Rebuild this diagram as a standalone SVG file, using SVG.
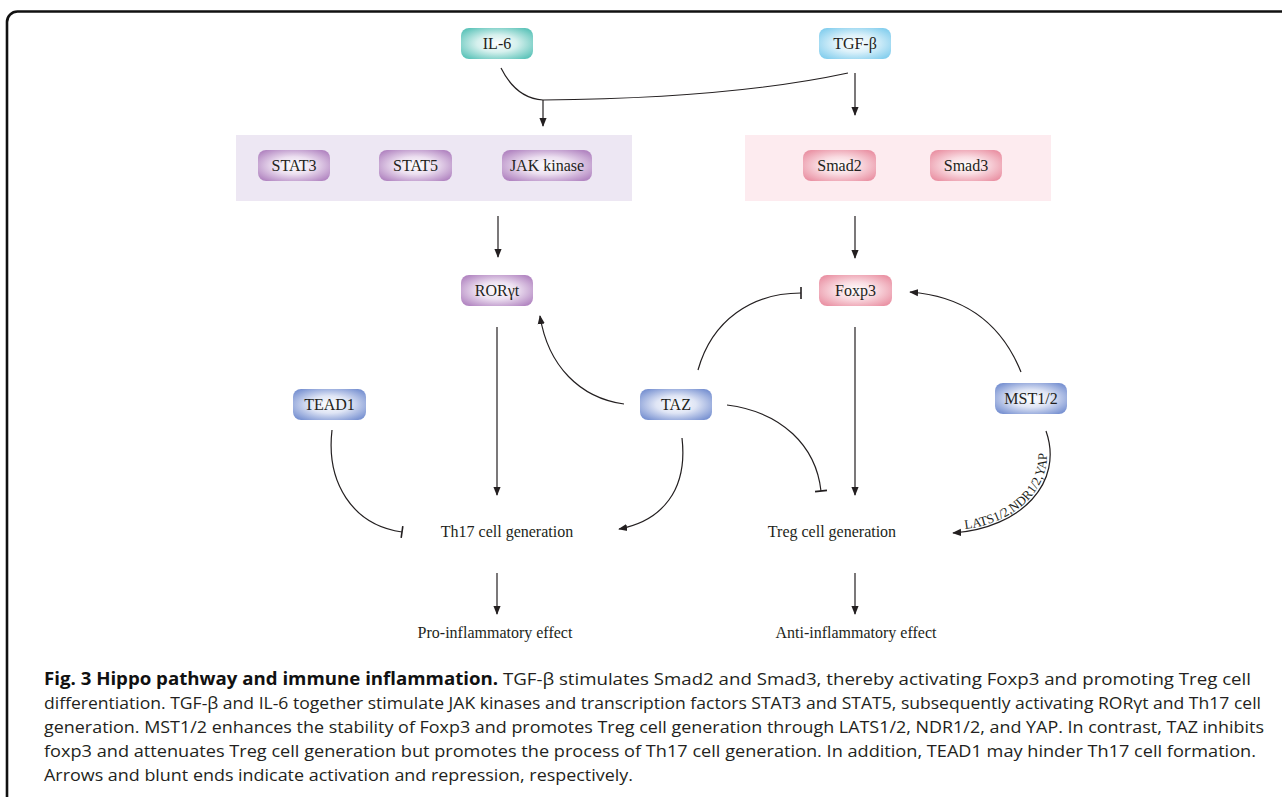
<svg xmlns="http://www.w3.org/2000/svg" width="1282" height="797" viewBox="0 0 1282 797">
<style>
.lbl{font-family:"Liberation Serif","Times New Roman",serif;font-size:16px;fill:#231f20;text-anchor:middle}
.ln{fill:none;stroke:#231f20;stroke-width:1.2}
.cap{font-family:"Open Sans","Noto Sans",sans-serif;font-size:17px;fill:#231f20}
.capb{font-weight:bold;fill:#111}
.path{font-family:"Liberation Serif","Times New Roman",serif;font-size:13px;fill:#231f20}
</style>
<defs>
<radialGradient id="gTeal" cx="0.5" cy="0.5" r="0.62"><stop offset="0" stop-color="#ffffff"/><stop offset="0.45" stop-color="#d5f0ed"/><stop offset="1" stop-color="#5ec4ba"/></radialGradient>
<radialGradient id="gSky" cx="0.5" cy="0.5" r="0.62"><stop offset="0" stop-color="#ffffff"/><stop offset="0.45" stop-color="#dcf1fa"/><stop offset="1" stop-color="#86cfee"/></radialGradient>
<radialGradient id="gPur" cx="0.5" cy="0.5" r="0.62"><stop offset="0" stop-color="#ffffff"/><stop offset="0.45" stop-color="#ecdff0"/><stop offset="1" stop-color="#b387c2"/></radialGradient>
<radialGradient id="gPink" cx="0.5" cy="0.5" r="0.62"><stop offset="0" stop-color="#ffffff"/><stop offset="0.45" stop-color="#f9dbe1"/><stop offset="1" stop-color="#ea93a5"/></radialGradient>
<radialGradient id="gBlue" cx="0.5" cy="0.5" r="0.62"><stop offset="0" stop-color="#ffffff"/><stop offset="0.45" stop-color="#dfe5f5"/><stop offset="1" stop-color="#7a93d2"/></radialGradient>
<marker id="arr" viewBox="0 0 10 10" refX="9" refY="5" markerWidth="9" markerHeight="9" markerUnits="userSpaceOnUse" orient="auto"><path d="M0,1 L10,5 L0,9 Z" fill="#231f20"/></marker>
<marker id="tee" viewBox="-2 -7 4 14" refX="0" refY="0" markerWidth="4" markerHeight="14" markerUnits="userSpaceOnUse" orient="auto"><line x1="0" y1="-6" x2="0" y2="6" stroke="#231f20" stroke-width="1.6"/></marker>
</defs>
<rect width="1282" height="797" fill="#ffffff"/>
<path d="M7,797 V22 A10.5,10.5 0 0 1 17.5,11.5 H1282" fill="none" stroke="#111" stroke-width="2.6"/>

<g id="background-boxes">
<rect id="box-jak" x="236" y="135" width="396" height="66" fill="#ede7f3"/>
<rect id="box-smad" x="745" y="135" width="306" height="66" fill="#fdebef"/>
</g>

<g id="connectors">
<path class="ln" d="M501,68 C511,88 525,99 543,100"/>
<path class="ln" d="M848,73 C760,92 650,99 543,100"/>
<path class="ln" d="M543,100 V126" marker-end="url(#arr)"/>
<path class="ln" d="M855,73 V115" marker-end="url(#arr)"/>
<path class="ln" d="M498,216 V257" marker-end="url(#arr)"/>
<path class="ln" d="M855,216 V258" marker-end="url(#arr)"/>
<path class="ln" d="M497,327 V495" marker-end="url(#arr)"/>
<path class="ln" d="M855,327 V495" marker-end="url(#arr)"/>
<path class="ln" d="M497,573 V614" marker-end="url(#arr)"/>
<path class="ln" d="M855,573 V614" marker-end="url(#arr)"/>
<path class="ln" d="M332,430 C326,482 352,525 402,532" marker-end="url(#tee)"/>
<path class="ln" d="M682,438 C688,490 662,521 619,529" marker-end="url(#arr)"/>
<path class="ln" d="M624,404 C580,398 548,366 540,316" marker-end="url(#arr)"/>
<path class="ln" d="M698,370 C712,320 752,293 801,293" marker-end="url(#tee)"/>
<path class="ln" d="M727,405 C782,412 816,446 821,491" marker-end="url(#tee)"/>
<path class="ln" d="M1021,372 C1000,320 962,296 910,292" marker-end="url(#arr)"/>
<path class="ln" d="M1046,431 C1064,482 1022,528 953,533" marker-end="url(#arr)"/>
<path id="lblpath" d="M960,529.5 C1020,525 1060,481 1043,433" fill="none" stroke="none"/>
<text class="path"><textPath href="#lblpath" startOffset="5">LATS1/2,NDR1/2,YAP</textPath></text>
</g>

<g id="il6"><rect x="461" y="28" width="72" height="31" rx="8" fill="url(#gTeal)"/><text class="lbl" x="497" y="49">IL-6</text></g>
<g id="tgfb"><rect x="819" y="28" width="72" height="31" rx="8" fill="url(#gSky)"/><text class="lbl" x="855" y="49">TGF-β</text></g>
<g id="stat3"><rect x="258" y="150" width="72" height="31" rx="8" fill="url(#gPur)"/><text class="lbl" x="294" y="171">STAT3</text></g>
<g id="stat5"><rect x="379" y="150" width="73" height="31" rx="8" fill="url(#gPur)"/><text class="lbl" x="415.5" y="171">STAT5</text></g>
<g id="jak"><rect x="502" y="150" width="90" height="31" rx="8" fill="url(#gPur)"/><text class="lbl" x="547" y="171">JAK kinase</text></g>
<g id="smad2"><rect x="803" y="150" width="73" height="31" rx="8" fill="url(#gPink)"/><text class="lbl" x="839.5" y="171">Smad2</text></g>
<g id="smad3"><rect x="930" y="150" width="72" height="31" rx="8" fill="url(#gPink)"/><text class="lbl" x="966" y="171">Smad3</text></g>
<g id="rorgt"><rect x="461" y="275" width="72" height="31" rx="8" fill="url(#gPur)"/><text class="lbl" x="497" y="296">RORγt</text></g>
<g id="foxp3"><rect x="819" y="275" width="73" height="31" rx="8" fill="url(#gPink)"/><text class="lbl" x="855.5" y="296">Foxp3</text></g>
<g id="tead1"><rect x="293" y="389" width="73" height="31" rx="8" fill="url(#gBlue)"/><text class="lbl" x="329.5" y="410">TEAD1</text></g>
<g id="taz"><rect x="640" y="389" width="72" height="31" rx="8" fill="url(#gBlue)"/><text class="lbl" x="676" y="410">TAZ</text></g>
<g id="mst12"><rect x="995" y="383" width="72" height="31" rx="8" fill="url(#gBlue)"/><text class="lbl" x="1031" y="404">MST1/2</text></g>
<g id="th17"><text class="lbl" x="507" y="537">Th17 cell generation</text></g>
<g id="treg"><text class="lbl" x="832" y="537">Treg cell generation</text></g>
<g id="pro"><text class="lbl" x="495" y="638">Pro-inflammatory effect</text></g>
<g id="anti"><text class="lbl" x="856" y="638">Anti-inflammatory effect</text></g>

<g id="caption">
<text class="cap" x="44" y="685" textLength="1207" lengthAdjust="spacingAndGlyphs"><tspan class="capb">Fig. 3 Hippo pathway and immune inflammation.</tspan> TGF-β stimulates Smad2 and Smad3, thereby activating Foxp3 and promoting Treg cell</text>
<text class="cap" x="44" y="709" textLength="1217" lengthAdjust="spacingAndGlyphs">differentiation. TGF-β and IL-6 together stimulate JAK kinases and transcription factors STAT3 and STAT5, subsequently activating RORγt and Th17 cell</text>
<text class="cap" x="44" y="733" textLength="1220" lengthAdjust="spacingAndGlyphs">generation. MST1/2 enhances the stability of Foxp3 and promotes Treg cell generation through LATS1/2, NDR1/2, and YAP. In contrast, TAZ inhibits</text>
<text class="cap" x="44" y="757" textLength="1212" lengthAdjust="spacingAndGlyphs">foxp3 and attenuates Treg cell generation but promotes the process of Th17 cell generation. In addition, TEAD1 may hinder Th17 cell formation.</text>
<text class="cap" x="44" y="781" textLength="589" lengthAdjust="spacingAndGlyphs">Arrows and blunt ends indicate activation and repression, respectively.</text>
</g>
</svg>
